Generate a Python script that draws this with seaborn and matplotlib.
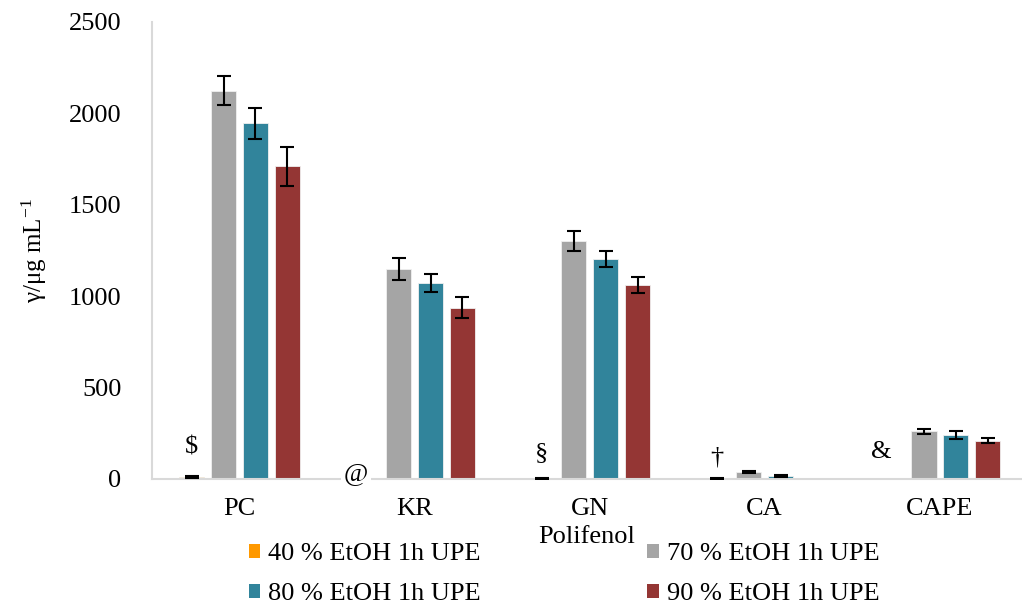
import matplotlib
matplotlib.use("Agg")
import matplotlib.pyplot as plt
import seaborn as sns
import pandas
import numpy

polifenol = ["PC", "KR", "GN", "CA", "CAPE"]
otapala = ["40 % EtOH 1h UPE", "70 % EtOH 1h UPE", "80 % EtOH 1h UPE", "90 % EtOH 1h UPE"]
v40 = [10, 0, 4, 4, 1]
v70 = [2125, 1150, 1300, 36, 260]
v80 = [1945, 1072, 1203, 16, 240]
v90 = [1710, 938, 1062, 0, 210]
e40 = [5, 0, 2, 3, 0]
e70 = [78, 60, 55, 5, 15]
e80 = [83, 50, 45, 4, 20]
e90 = [107, 60, 45, 0, 12]
oznake = ["$", "@", "§", "†", "&"]
boje = ["#FF9900", "#A5A5A5", "#31849B", "#943634"]

vals = [v40, v70, v80, v90]
errs = [e40, e70, e80, e90]
rows = []
for i, o in enumerate(otapala):
    for j, p in enumerate(polifenol):
        rows.append({"Polifenol": p, "Otapalo": o, "c": vals[i][j], "err": errs[i][j]})
df = pandas.DataFrame(rows)

plt.rcParams["font.family"] = ["Liberation Serif", "DejaVu Serif"]
plt.rcParams["mathtext.fontset"] = "stix"

fig = plt.figure(figsize=(10.22, 6.07), dpi=100)
ax = fig.add_axes([0.1487, 0.2109, 0.8513, 0.7529])
sns.barplot(data=df, x="Polifenol", y="c", hue="Otapalo", order=polifenol, hue_order=otapala,
            palette=boje, saturation=1, width=0.73, gap=0.2, errorbar=None, ax=ax, legend=False,
            edgecolor="#f0f0f0", linewidth=0.6)

stupci = list(ax.containers)
for i, cont in enumerate(stupci):
    xs = [b.get_x() + b.get_width() / 2 for b in cont]
    ok = [k for k in range(len(xs)) if errs[i][k] > 0]
    ax.errorbar([xs[k] for k in ok], [vals[i][k] for k in ok], yerr=[errs[i][k] for k in ok],
                fmt="none", ecolor="black", elinewidth=1.5, capsize=5, capthick=1.5, zorder=5)

# oznake iznad 40 % stupca
pos_y = [170, 25, 140, 120, 150]
for k, b in enumerate(stupci[0]):
    x = b.get_x() + b.get_width() / 2
    dx = -0.06 if k in (1, 4) else 0
    ax.text(x + dx, pos_y[k], oznake[k], ha="center", va="center", fontsize=19,
            bbox=dict(facecolor="white", edgecolor="none", pad=2) if k == 1 else None,
            zorder=6, clip_on=False)

ax.set_ylim(0, 2500)
ax.set_xlim(-0.5, 4.47)
ax.set_yticks([0, 500, 1000, 1500, 2000, 2500])
ax.tick_params(axis="both", length=0, labelsize=19)
ax.tick_params(axis="x", pad=14)
ax.tick_params(axis="y", pad=22)
for s in ["top", "right"]:
    ax.spines[s].set_visible(False)
for s in ["left", "bottom"]:
    ax.spines[s].set_color("#D9D9D9")
    ax.spines[s].set_linewidth(1.5)
ax.set_xlabel("Polifenol", fontsize=19, labelpad=4)
ax.set_ylabel("γ/μg mL$^{\\mathregular{-1}}$", fontsize=18, labelpad=14)

from matplotlib.patches import Patch
h = [Patch(facecolor=c, edgecolor="none") for c in boje]
red = [0, 2, 1, 3]
fig.legend([h[i] for i in red], [otapala[i] for i in red], loc="center",
           bbox_to_anchor=(0.552, 0.054), ncol=2, frameon=False,
           fontsize=19, handlelength=0.45, handleheight=0.45, handletextpad=0.3,
           columnspacing=6.3, labelspacing=0.68, borderpad=0.2)

plt.savefig("out.png", dpi=100)
